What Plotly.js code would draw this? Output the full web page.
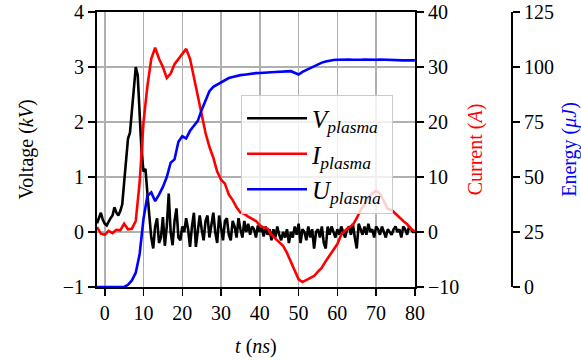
<!DOCTYPE html>
<html>
<head>
<meta charset="utf-8">
<script src="https://cdn.plot.ly/plotly-3.0.1.min.js"></script>
<style>html,body{margin:0;padding:0;background:#fff;}#chart{width:581px;height:360px;}</style>
</head>
<body>
<div id="chart"></div>
<script>
// Time axis for voltage (0.5 ns steps), ns
const tV = [];
for (let i = 0; i <= 164; i++) tV.push(-2 + i * 0.5);
// Plasma voltage (kV)
const voltage = [
 0.16, 0.25, 0.35, 0.22, 0.15, 0.12, 0.2, 0.25, 0.3, 0.45,
 0.35, 0.3, 0.38, 0.5, 0.9, 1.3, 1.7, 1.8, 2.2, 2.75,
 3.0, 2.85, 2.1, 1.45, 1.1, 1.15, 0.7, 0.25, -0.1, -0.3,
 0.1, 0.25, -0.2, -0.1, 0.27, -0.25, 0.1, 0.7, 0.0, -0.24,
 0.2, 0.43, -0.1, -0.15, 0.1, 0.0, 0.25, 0.05, -0.27, 0.1,
 0.35, -0.27, 0.05, 0.3, 0.05, -0.15, 0.2, 0.3, -0.1, 0.1,
 0.35, 0.0, -0.2, 0.3, 0.05, -0.15, 0.2, 0.25, -0.05, -0.15,
 0.2, 0.1, -0.1, 0.25, 0.05, -0.1, 0.2, 0.0, 0.15, -0.05,
 0.1, 0.05, -0.1, 0.12, 0.0, 0.08, -0.08, 0.1, -0.05, 0.05,
 -0.15, 0.05, -0.1, 0.1, -0.05, -0.15, 0.0, -0.1, 0.05, -0.2,
 0.0, -0.1, 0.1, -0.05, 0.15, -0.2, 0.05, 0.0, -0.15, 0.1,
 -0.1, 0.05, -0.3, 0.0, 0.05, -0.1, 0.1, -0.2, -0.3, 0.1,
 -0.05, 0.1, 0.0, -0.1, 0.05, -0.05, 0.1, 0.0, -0.1, 0.05,
 0.1, -0.05, 0.15, -0.1, -0.3, 0.15, 0.05, -0.05, 0.1, -0.05,
 0.15, 0.0, 0.05, -0.1, 0.1, 0.05, -0.05, 0.1, 0.0, -0.1,
 0.05, 0.0, -0.05, 0.05, 0.1, 0.0, 0.05, -0.1, 0.1, 0.05,
 -0.05, 0.1, 0.05, 0.0, 0.0
];
// Time axis for current and energy (1 ns steps), ns
const tIU = [];
for (let i = 0; i <= 82; i++) tIU.push(-2 + i);
// Plasma current (A)
const current = [
 0.9, -0.3, -0.5, 0.2, -0.2, 0.4, 0.3, 1.5, 0.5, 0.6,
 2.0, 9, 20, 26.5, 31.5, 33.5, 31.5, 30, 28, 28.8,
 30.5, 31.5, 32.3, 33.3, 31.5, 28.2, 24.6, 21.6, 18, 15.5,
 13.5, 11, 9.5, 8.8, 6.8, 5.8, 4.5, 3.5, 3.3, 2.8,
 2.4, 2.0, 1.2, 0.8, 0.6, -0.5, -1.2, -1.8, -2.5, -3.8,
 -5.5, -7.2, -8.6, -9.1, -8.7, -8.3, -8.0, -7.2, -6.5, -5.3,
 -4.2, -3.1, -2.2, -0.5, 0.3, 0.8, 1.3, 2.5, 4.0, 5.0,
 6.2, 7.0, 7.5, 7.0, 5.5, 4.2, 4.0, 3.3, 2.7, 2.0,
 1.4, 0.6, 0.1
];
// Plasma energy (uJ)
const energy = [
 0, 0, 0, 0, 0, 0, 0, 0, 1, 3,
 6.5, 15, 31, 41.5, 43, 39, 42, 45.5, 50, 56.5,
 58, 66, 68.5, 67.5, 71, 73.5, 75.5, 80.5, 85, 89,
 91, 92, 93, 94, 95, 95.5, 96, 96.3, 96.5, 96.8,
 97, 97.2, 97.3, 97.5, 97.5, 97.6, 97.7, 97.7, 97.8, 98,
 98.1, 97.3, 96.6, 97.8, 98.6, 99.5, 100.5, 101.3, 102, 102.5,
 103, 103.2, 103.3, 103.4, 103.3, 103.4, 103.3, 103.2, 103.3, 103.4,
 103.3, 103.2, 103.3, 103.4, 103.3, 103.1, 103.0, 103.1, 103.1, 103.0,
 103.0, 103.0, 103.0
];
const xTicks = [0, 10, 20, 30, 40, 50, 60, 70, 80];
const vTicks = [-1, 0, 1, 2, 3, 4];
const iTicks = [-10, 0, 10, 20, 30, 40];
const uTicks = [0, 25, 50, 75, 100, 125];
const names = ['<i>V</i><sub><i>plasma</i></sub>&nbsp;', '<i>I</i><sub><i>plasma</i></sub>&nbsp;', '<i>U</i><sub><i>plasma</i></sub>&nbsp;'];

const FONT = 'Liberation Serif';
const traces = [
  {x: tV, y: voltage, name: names[0], yaxis: 'y', type: 'scatter', mode: 'lines', line: {color: '#000000', width: 2.6}},
  {x: tIU, y: current, name: names[1], yaxis: 'y2', type: 'scatter', mode: 'lines', line: {color: '#ff0000', width: 2.6}},
  {x: tIU, y: energy, name: names[2], yaxis: 'y3', type: 'scatter', mode: 'lines', line: {color: '#0000ff', width: 2.6}}
];
const axisCommon = {
  showline: true, linecolor: '#000', linewidth: 2, ticks: 'outside', ticklen: 7, tickwidth: 1.5, tickcolor: '#000',
  zeroline: false, tickfont: {family: FONT, size: 20, color: '#000'}
};
const layout = {
  width: 581, height: 360,
  margin: {l: 97, r: 69, t: 12, b: 73},
  paper_bgcolor: '#fff', plot_bgcolor: '#fff',
  font: {family: FONT, size: 20, color: '#000'},
  showlegend: true,
  legend: {x: 0.347, y: 0.70, xanchor: 'left', yanchor: 'top', bgcolor: 'rgba(255,255,255,0.8)',
           bordercolor: '#cccccc', borderwidth: 1, itemwidth: 60, font: {family: FONT, size: 25, color: '#000'}},
  xaxis: Object.assign({}, axisCommon, {
    domain: [0, 0.766], range: [-2, 80], tickvals: xTicks, mirror: true,
    showgrid: true, gridcolor: '#b0b0b0', gridwidth: 1.5,
    title: {text: '<i>t</i> (<i>ns</i>)', font: {family: FONT, size: 20, color: '#000'}, standoff: 16}
  }),
  yaxis: Object.assign({}, axisCommon, {
    range: [-1, 4], tickvals: vTicks,
    showgrid: true, gridcolor: '#b0b0b0', gridwidth: 1.5,
    title: {text: 'Voltage (<i>kV</i>)', font: {family: FONT, size: 20, color: '#000'}, standoff: 24}
  }),
  yaxis2: Object.assign({}, axisCommon, {
    overlaying: 'y', side: 'right', anchor: 'x', range: [-10, 40], tickvals: iTicks, showgrid: false,
    title: {text: 'Current (<i>A</i>)', font: {family: FONT, size: 20, color: '#ff0000'}, standoff: 10}
  }),
  yaxis3: Object.assign({}, axisCommon, {
    overlaying: 'y', side: 'right', anchor: 'free', position: 1, range: [0, 125], tickvals: uTicks, showgrid: false,
    title: {text: 'Energy (<i>μJ</i>)', font: {family: FONT, size: 20, color: '#0000ff'}, standoff: 22}
  })
};
Plotly.newPlot('chart', traces, layout, {displayModeBar: false, staticPlot: true});
</script>
</body>
</html>
